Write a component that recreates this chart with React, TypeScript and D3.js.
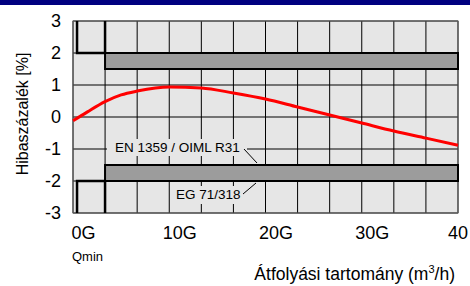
import React from 'react';
import * as d3 from 'd3';

// flow (0..40) vs. error %
const flowRate = [0, 1.5, 3.33, 5, 6.67, 10, 13.33, 16.67, 20, 23.33, 26.67, 30, 33.33, 36.67, 40];
const errorPct = [-0.12, 0.16, 0.48, 0.69, 0.81, 0.94, 0.91, 0.75, 0.56, 0.31, 0.06, -0.19, -0.44, -0.66, -0.88];

const xTickValues = [0, 10, 20, 30, 40];
const xTickLabels = ['0G', '10G', '20G', '30G', '40'];
const yTickValues = [-3, -2, -1, 0, 1, 2, 3];

const qMin = 0.42;
const qT = 3.33;
const bandLow = [1.5, -2];
const bandHigh = [2, -1.5];

const W = 470;
const H = 286;
const margin = { top: 21, right: 12, bottom: 73, left: 73 };
const font = 'Liberation Sans, Arial, sans-serif';

const App: React.FC = () => {
  const x = d3.scaleLinear().domain([0, 40]).range([margin.left, W - margin.right]);
  const y = d3.scaleLinear().domain([-3, 3]).range([H - margin.bottom, margin.top]);

  const gridCols = d3.range(0, 13).map(i => (i * 40) / 12);

  const line = d3.line<number>()
    .x((_, i) => x(flowRate[i]))
    .y(d => y(d))
    .curve(d3.curveMonotoneX);

  const limitPath = (s: number) =>
    `M${x(qMin)},${y(3 * s)}V${y(2 * s)}H${x(qT)}M${x(qT)},${y(3 * s)}V${y(2 * s)}`;

  return (
    <svg width={W} height={H} style={{ position: 'absolute', left: 0, top: 0 }} fontFamily={font}>
      <rect x={0} y={0} width={W} height={5} fill="#000080" />

      {/* plot background */}
      <rect x={x(0)} y={y(3)} width={x(40) - x(0)} height={y(-3) - y(3)} fill="#e6e6e6" />

      {/* grid */}
      {gridCols.map((v, i) => (
        <line key={'gx' + i} x1={x(v)} x2={x(v)} y1={y(3)} y2={y(-3)} stroke="#000" strokeWidth={1} />
      ))}
      {yTickValues.map(v => (
        <line key={'gy' + v} x1={x(0)} x2={x(40)} y1={y(v)} y2={y(v)} stroke="#000" strokeWidth={1} />
      ))}
      <rect x={x(0)} y={y(3)} width={x(40) - x(0)} height={y(-3) - y(3)} fill="none" stroke="#666" strokeWidth={1} />

      {/* limit bands */}
      {bandLow.map((lo, i) => (
        <rect key={'b' + i} x={x(qT)} y={y(bandHigh[i])} width={x(40) - x(qT)} height={y(lo) - y(bandHigh[i])}
          fill="#9c9c9c" stroke="#000" strokeWidth={2} />
      ))}
      <path d={limitPath(1)} fill="none" stroke="#000" strokeWidth={2.5} />
      <path d={limitPath(-1)} fill="none" stroke="#000" strokeWidth={2.5} />

      {/* error curve */}
      <path d={line(errorPct) || ''} fill="none" stroke="#ff0000" strokeWidth={3} />

      {/* annotations */}
      <rect x={107} y={139} width={140} height={17} fill="#e6e6e6" />
      <text x={115} y={152} fontSize={13.5} fill="#000">EN 1359 / OIML R31</text>
      <line x1={244} y1={149} x2={257} y2={163} stroke="#000" strokeWidth={1} />
      <rect x={172} y={186} width={70} height={18} fill="#e6e6e6" />
      <text x={176} y={199} fontSize={13.5} fill="#000">EG 71/318</text>
      <line x1={243} y1={194} x2={256} y2={183} stroke="#000" strokeWidth={1} />

      {/* y axis labels */}
      {yTickValues.map(v => (
        <text key={'ty' + v} x={61} y={y(v)} textAnchor="end" dominantBaseline="central" fontSize={18} fill="#000">
          {v}
        </text>
      ))}
      <text transform={`translate(28,${(y(3) + y(-3)) / 2 - 3}) rotate(-90)`} textAnchor="middle" fontSize={16} fill="#000">
        Hibaszázalék [%]
      </text>

      {/* x axis labels */}
      {xTickValues.map((v, i) => (
        <text key={'tx' + v} x={i === xTickValues.length - 1 ? x(v) : x(v) + 10.5} y={239}
          textAnchor="middle" fontSize={18} fill="#000">
          {xTickLabels[i]}
        </text>
      ))}
      <text x={72} y={261} fontSize={13} fill="#000">Qmin</text>
      <text x={455} y={280} textAnchor="end" fontSize={17.5} fill="#000">
        Átfolyási tartomány (m<tspan dy={-7} fontSize={11}>3</tspan><tspan dy={7}>/h)</tspan>
      </text>
    </svg>
  );
};

export default App;
